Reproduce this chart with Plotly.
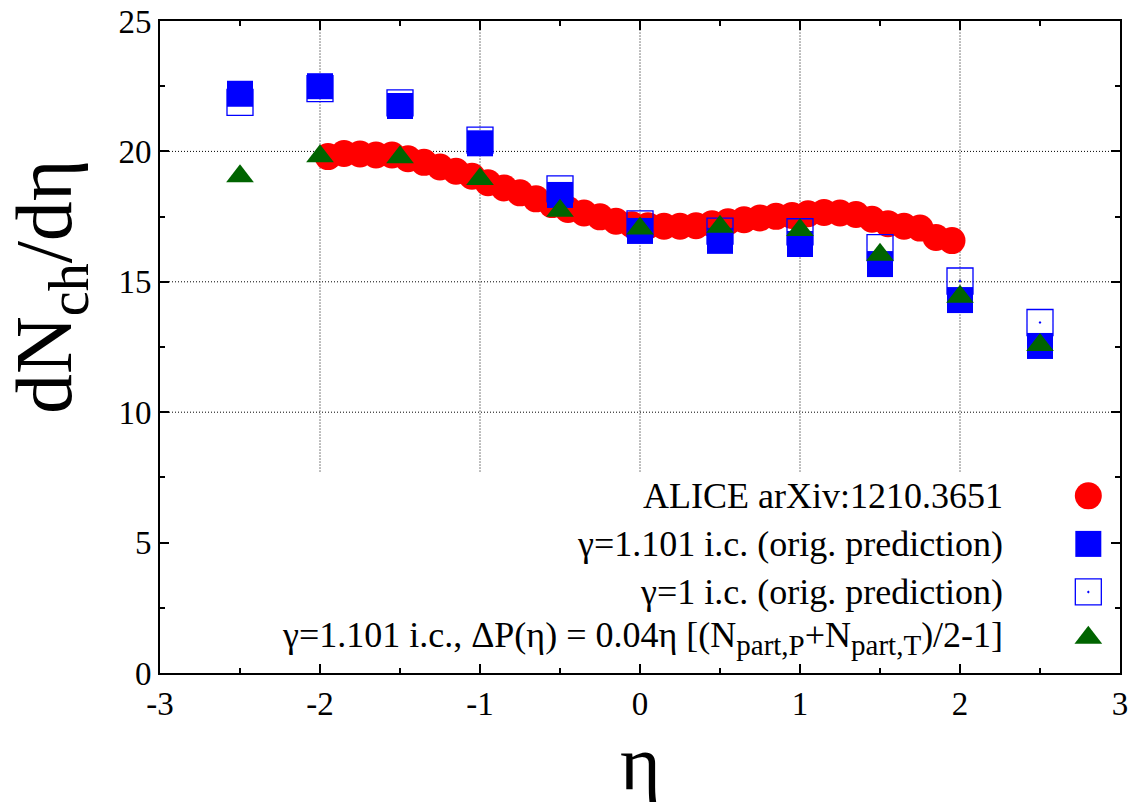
import plotly.graph_objects as go

# ---------------- data ----------------
alice_eta = [-1.95, -1.85, -1.75, -1.65, -1.55, -1.45, -1.35, -1.25, -1.15, -1.05,
             -0.95, -0.85, -0.75, -0.65, -0.55, -0.45, -0.35, -0.25, -0.15, -0.05,
             0.05, 0.15, 0.25, 0.35, 0.45, 0.55, 0.65, 0.75, 0.85, 0.95,
             1.05, 1.15, 1.25, 1.35, 1.45, 1.55, 1.65, 1.75, 1.85, 1.95]
alice_dndeta = [19.80, 19.92, 19.90, 19.86, 19.86, 19.72, 19.58, 19.40, 19.24, 19.05,
                18.80, 18.60, 18.41, 18.18, 17.96, 17.77, 17.64, 17.49, 17.32, 17.19,
                17.15, 17.13, 17.13, 17.15, 17.23, 17.30, 17.38, 17.45, 17.51, 17.54,
                17.61, 17.66, 17.64, 17.58, 17.40, 17.23, 17.13, 17.06, 16.70, 16.58]

pred_eta = [-2.5, -2.0, -1.5, -1.0, -0.5, 0.0, 0.5, 1.0, 1.5, 2.0, 2.5]
gamma1101 = [22.21, 22.50, 21.74, 20.31, 18.33, 16.95, 16.57, 16.45, 15.68, 14.30, 12.54]
gamma1 = [21.88, 22.41, 21.86, 20.43, 18.56, 17.22, 16.94, 16.92, 16.31, 15.03, 13.44]
gamma1101_dp = [19.05, 19.81, 19.78, 18.94, 17.72, 17.04, 17.11, 16.99, 16.04, 14.43, 12.58]

x_ticks = [-3, -2, -1, 0, 1, 2, 3]
y_ticks = [0, 5, 10, 15, 20, 25]
x_grid = [-2, -1, 0, 1, 2]
y_grid = [10, 15, 20]

SUB = '<sub><span style="font-size:29px">{}</span></sub>'
legend_labels = [
    "ALICE arXiv:1210.3651",
    "γ=1.101 i.c. (orig. prediction)",
    "γ=1 i.c. (orig. prediction)",
    "γ=1.101 i.c., ΔP(η) = 0.04η [(N" + SUB.format("part,P") + "+N" + SUB.format("part,T") + ")/2-1]",
]

# ---------------- styling ----------------
FONT = "Liberation Serif, Times New Roman, Times, serif"
RED = "#ff0000"
BLUE = "#0000ff"
GREEN = "#006400"
KEY_TOP = 0.309   # top of opaque key box, fraction of plot height

fig = go.Figure()

fig.add_trace(go.Scatter(x=alice_eta, y=alice_dndeta, mode="markers",
                         marker=dict(symbol="circle", size=27, color=RED, line=dict(width=0)),
                         showlegend=False))
fig.add_trace(go.Scatter(x=pred_eta, y=gamma1, mode="markers",
                         marker=dict(symbol="square-open-dot", size=26, color=BLUE,
                                     line=dict(width=1.3, color=BLUE)),
                         showlegend=False))
fig.add_trace(go.Scatter(x=pred_eta, y=gamma1101, mode="markers",
                         marker=dict(symbol="square", size=26, color=BLUE, line=dict(width=0)),
                         showlegend=False))
fig.add_trace(go.Scatter(x=pred_eta, y=gamma1101_dp, mode="markers",
                         marker=dict(symbol="triangle-up", size=24, color=GREEN, line=dict(width=0)),
                         showlegend=False))

# ---------------- dotted grid, interrupted by the opaque key box ----------------
grid_line = dict(color="#000000", width=1, dash="1px,2px")
for gx in x_grid:
    fig.add_shape(type="line", xref="x", yref="y domain", x0=gx, x1=gx, y0=KEY_TOP, y1=1,
                  line=grid_line, layer="below")
for gy in y_grid:
    fig.add_shape(type="line", xref="x domain", yref="y", x0=0, x1=1, y0=gy, y1=gy,
                  line=grid_line, layer="below")

# ---------------- hand-made key (gnuplot style: text right, symbol far right) ----
key_sym_x = 0.967
key_rows_y = [0.2717, 0.198, 0.1243, 0.054]
key_styles = [
    dict(symbol="circle", size=27, color=RED, line=dict(width=0)),
    dict(symbol="square", size=26, color=BLUE, line=dict(width=0)),
    dict(symbol="square-open-dot", size=26, color=BLUE, line=dict(width=1.3, color=BLUE)),
    dict(symbol="triangle-up", size=24, color=GREEN, line=dict(width=0)),
]
for yy, st in zip(key_rows_y, key_styles):
    fig.add_trace(go.Scatter(x=[key_sym_x], y=[yy], mode="markers", marker=st,
                             xaxis="x2", yaxis="y2", showlegend=False, hoverinfo="skip"))

for yy, txt in zip(key_rows_y, legend_labels):
    fig.add_annotation(x=0.88, y=yy, xref="paper", yref="paper", text=txt,
                       showarrow=False, xanchor="right", yanchor="middle",
                       font=dict(family=FONT, size=36, color="black"))

axis_common = dict(
    showline=True, linecolor="black", linewidth=2, mirror="allticks",
    ticks="inside", ticklen=9, tickwidth=1.5, tickcolor="black",
    showgrid=False, zeroline=False, automargin=False,
    tickfont=dict(family=FONT, size=33, color="black"),
)

fig.update_layout(
    width=1130, height=802,
    margin=dict(l=160, r=10, t=21, b=129, autoexpand=False),
    paper_bgcolor="white", plot_bgcolor="white",
    font=dict(family=FONT, color="black"),
    xaxis=dict(range=[-3, 3], tickmode="array", tickvals=x_ticks,
               ticktext=[str(v) for v in x_ticks],
               minor=dict(dtick=0.5, ticks="inside", ticklen=5, tickwidth=1.5, tickcolor="black"),
               **axis_common),
    yaxis=dict(range=[0, 25], tickmode="array", tickvals=y_ticks,
               ticktext=[str(v) for v in y_ticks],
               minor=dict(dtick=2.5, ticks="inside", ticklen=5, tickwidth=1.5, tickcolor="black"),
               **axis_common),
    xaxis2=dict(overlaying="x", range=[0, 1], visible=False, fixedrange=True),
    yaxis2=dict(overlaying="y", range=[0, 1], visible=False, fixedrange=True),
)

# axis titles
fig.add_annotation(x=(50 - 160) / 960, y=(673 - 287) / 652, xref="paper", yref="paper",
                   text="dN<sub>ch</sub>/dη", showarrow=False, textangle=-90,
                   xanchor="center", yanchor="middle",
                   font=dict(family=FONT, size=80, color="black"))
fig.add_annotation(x=(640 - 160) / 960, y=(673 - 762) / 652, xref="paper", yref="paper",
                   text="η", showarrow=False, xanchor="center", yanchor="middle",
                   font=dict(family=FONT, size=78, color="black"))

fig.write_html("out.html")
